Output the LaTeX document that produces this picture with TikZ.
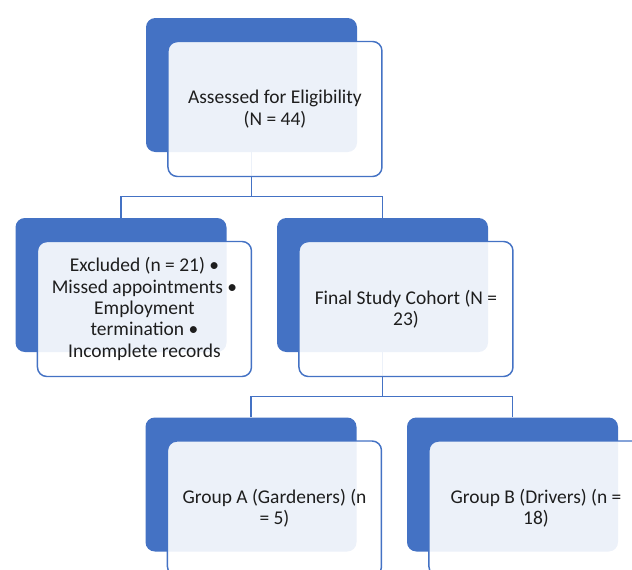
\documentclass[tikz,border=0pt]{standalone}
\usepackage{fontspec}
\setmainfont{Carlito}
\usepackage{xcolor}
\definecolor{accentblue}{RGB}{68,114,196}
\definecolor{textgray}{RGB}{30,30,30}
\usetikzlibrary{positioning}

\begin{document}
\begin{tikzpicture}[x=0.75pt,y=-0.75pt,
  back/.style={fill=accentblue,rounded corners=7pt,minimum width=158.25pt,minimum height=100.5pt,inner sep=0pt},
  front/.style={draw=accentblue,line width=1.1pt,fill=white,fill opacity=0.9,text opacity=1,rounded corners=7pt,
    minimum width=160.5pt,minimum height=101.25pt,align=center,text=textgray,
    font=\fontsize{14.6}{16}\selectfont,xshift=17.6pt,yshift=-18pt},
  link/.style={draw=accentblue,line width=1.1pt}]
\useasboundingbox (0,0) rectangle (632,569);
\clip (0,0) rectangle (632,569);
% back panels
\node[back] (assessB) at (251.5,85) {};
\node[back] (exclB) at (121,285) {};
\node[back] (cohortB) at (382.5,285) {};
\node[back] (grpAB) at (251,484.5) {};
\node[back] (grpBB) at (512.5,484.5) {};
% tree lines
\draw[link] (assessB.south) -- ++(0,44) coordinate (split1);
\draw[link] (split1) -| (exclB.north);
\draw[link] (split1) -| (cohortB.north);
\draw[link] (cohortB.south) -- ++(0,44) coordinate (split2);
\draw[link] (split2) -| (grpAB.north);
\draw[link] (split2) -| (grpBB.north);
% front cards
\node[front] (assess) at (assessB.center) {Assessed for Eligibility\\(N = 44)};
\node[front] (excl) at (exclB.center) {Excluded (n = 21) •\\Missed appointments •\\Employment\\termination •\\Incomplete records};
\node[front] (cohort) at (cohortB.center) {Final Study Cohort (N =\\23)};
\node[front] (grpA) at (grpAB.center) {Group A (Gardeners) (n\\= 5)};
\node[front] (grpB) at (grpBB.center) {Group B (Drivers) (n =\\18)};
\end{tikzpicture}
\end{document}
